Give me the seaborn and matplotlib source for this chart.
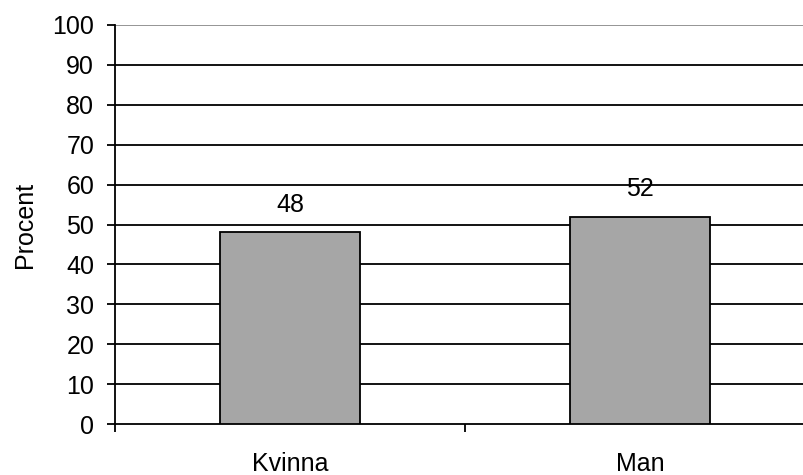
import matplotlib
matplotlib.use("Agg")
import matplotlib.pyplot as plt
import seaborn as sns
import pandas as pd

categories = ["Kvinna", "Man"]
values = [48, 52]
y_ticks = [0, 10, 20, 30, 40, 50, 60, 70, 80, 90, 100]

sns.set_style("white")
plt.rcParams["font.family"] = ["Liberation Sans", "DejaVu Sans"]
plt.rcParams["text.color"] = "black"
plt.rcParams["xtick.color"] = "black"
plt.rcParams["ytick.color"] = "black"
plt.rcParams["axes.labelcolor"] = "black"

df = pd.DataFrame({"kategori": categories, "procent": values})

fig = plt.figure(figsize=(8.04, 4.75), dpi=100)
W, H = 804, 475
ax = fig.add_axes([115 / W, 51 / H, 700 / W, 399 / H])

sns.barplot(data=df, x="kategori", y="procent", color="#a6a6a6",
            width=0.4, edgecolor="black", linewidth=1.3, saturation=1,
            ax=ax, zorder=3)

ax.set_xlim(-0.5, 1.5)
ax.set_ylim(0, 100)
ax.set_yticks(y_ticks)
for y in y_ticks[1:]:
    ax.axhline(y, color="black" if y < 100 else "#8c8c8c", lw=1.3, zorder=1)

for i, v in enumerate(values):
    ax.annotate(str(v), (i, v), xytext=(0, 11), textcoords="offset points",
                ha="center", va="bottom", fontsize=18)

for s in ["top", "right"]:
    ax.spines[s].set_visible(False)
for s in ["left", "bottom"]:
    ax.spines[s].set_linewidth(1.3)
    ax.spines[s].set_color("black")

ax.set_xticks([0, 1])
ax.set_xticklabels(categories)
ax.set_xticks([-0.5, 0.5, 1.5], minor=True)
ax.tick_params(axis="x", which="major", length=0, pad=20, labelsize=18)
ax.tick_params(axis="x", which="minor", length=6, width=1.3,
               direction="out", bottom=True)
ax.tick_params(axis="y", length=6, width=1.3,
               direction="out", left=True, pad=9, labelsize=18)

ax.set_xlabel("")
ax.set_ylabel("Procent", fontsize=18, labelpad=11)

fig.savefig("out.png", dpi=100)
